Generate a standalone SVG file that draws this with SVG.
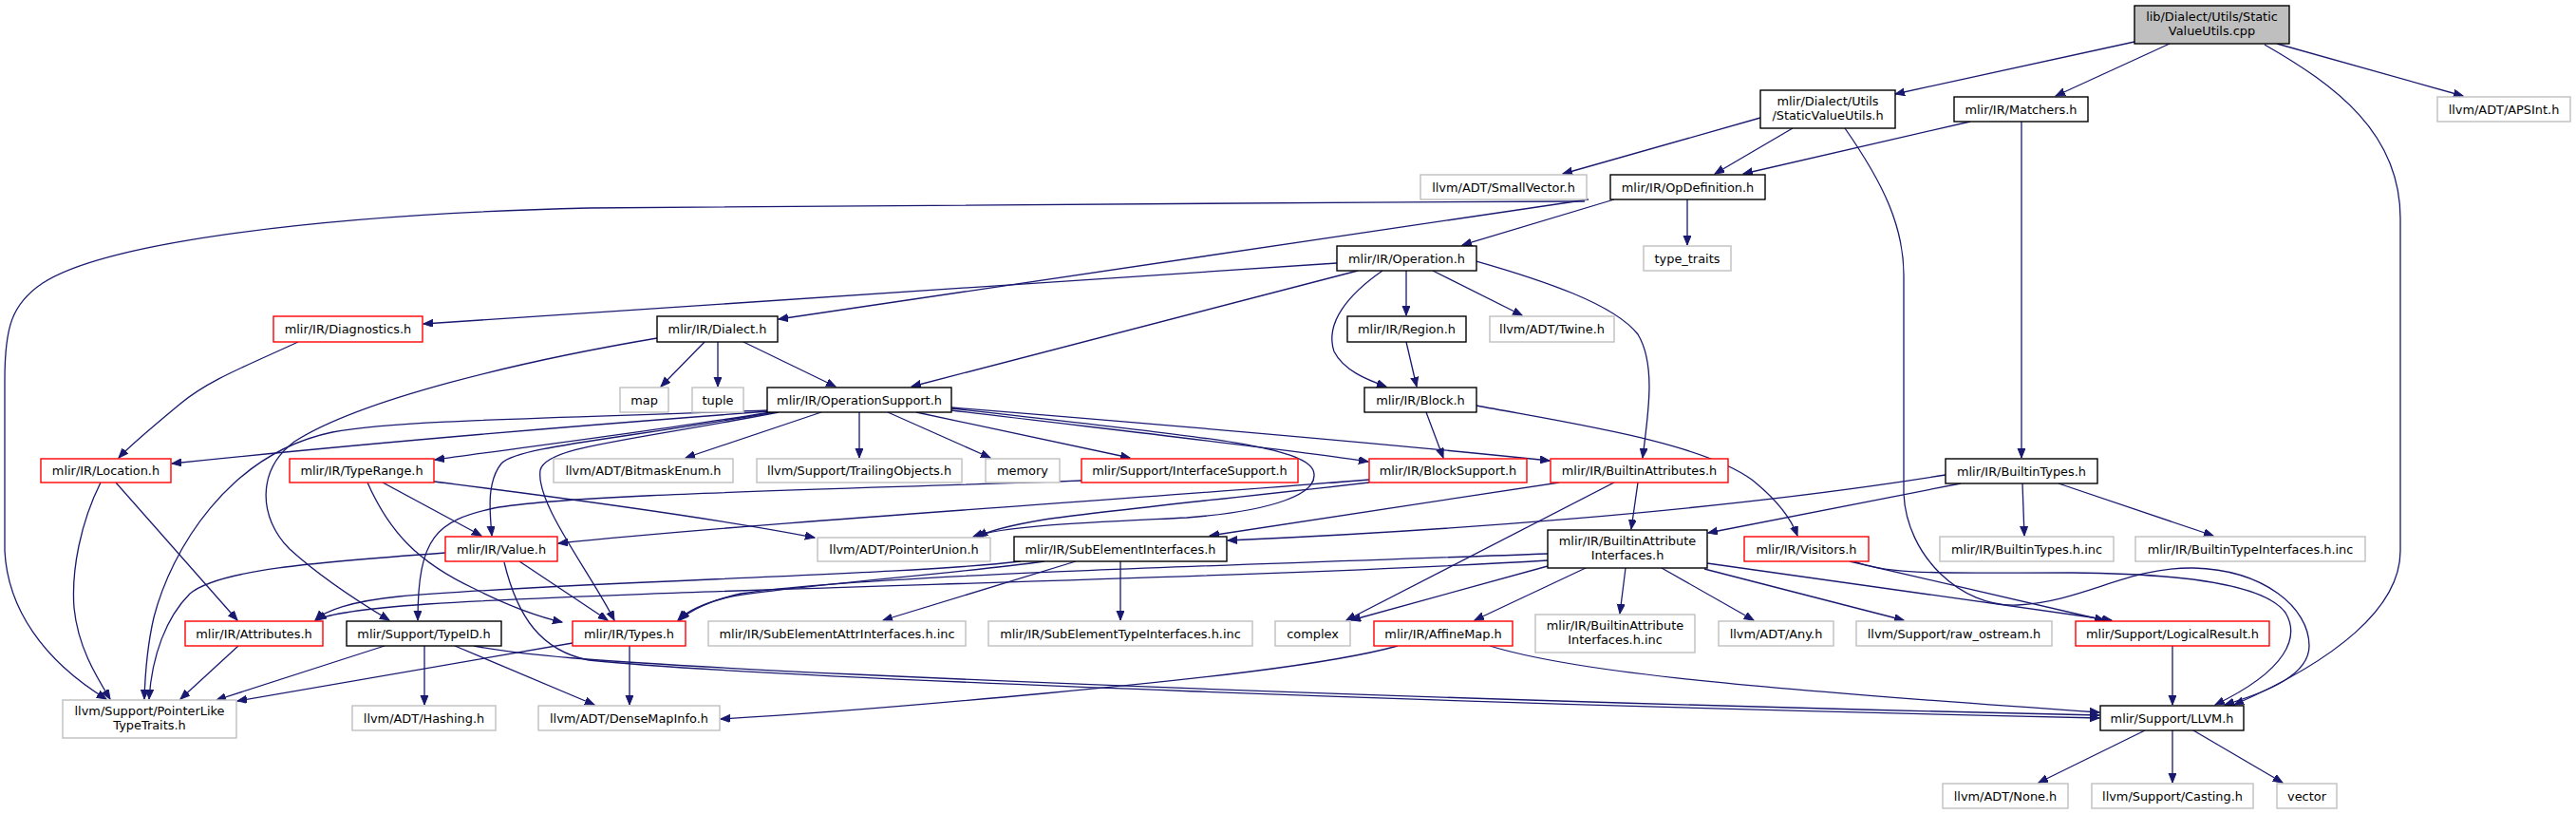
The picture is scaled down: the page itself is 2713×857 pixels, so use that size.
<svg xmlns="http://www.w3.org/2000/svg" width="2713" height="857" viewBox="0 0 2713 857">
<defs>
<style>
.n rect{fill:#fff;stroke-width:1.4}
.nb rect{stroke:#000}
.nr rect{stroke:#ff0000}
.ng rect{stroke:#bfbfbf}
.nroot rect{fill:#bfbfbf;stroke:#000}
.n text{font-family:"DejaVu Sans",sans-serif;font-size:12.9px;fill:#000;text-anchor:middle}
.e path{fill:none;stroke:#191970;stroke-width:1.3;marker-end:url(#a)}
</style>
<marker id="a" markerWidth="12" markerHeight="10" refX="10" refY="4" orient="auto" markerUnits="userSpaceOnUse"><path d="M0,0 L10,4 L0,8 z" fill="#191970" stroke="#191970" stroke-width="1"/></marker>
</defs>
<rect width="2713" height="857" fill="#fff"/>
<g id="edges" class="e">
<path d="M2248,44 L1996,99"/>
<path d="M2285,46 L2165,101"/>
<path d="M2398,46 L2594,101"/>
<path d="M2385,47 C2460,90 2528,140 2528,230 L2528,580 C2528,640 2460,695 2353,742"/>
<path d="M1854,124 L1646,183"/>
<path d="M1888,135 L1806,183"/>
<path d="M1943,135 C1985,195 2005,240 2005,290 L2005,520 C2008,585 2065,640 2125,637 C2195,633 2240,597 2310,598 C2385,600 2432,640 2432,680 C2432,710 2390,728 2343,742"/>
<path d="M2075,128 L1836,183"/>
<path d="M2129,128 L2129,482"/>
<path d="M1669,212 C1300,214 900,214 620,219 C330,226 110,256 45,298 C12,320 5,345 5,400 L5,580 C8,640 45,695 112,736"/>
<path d="M1777,210 L1777,258"/>
<path d="M1700,210 L1540,258"/>
<path d="M1673,210 L820,336"/>
<path d="M1408,277 L446,341"/>
<path d="M1430,285 L960,407"/>
<path d="M1456,285 C1420,310 1395,340 1405,370 C1415,390 1440,400 1460,407"/>
<path d="M1481,285 L1481,332"/>
<path d="M1509,285 L1603,332"/>
<path d="M1555,275 C1625,295 1700,320 1725,352 C1745,385 1735,440 1730,482"/>
<path d="M314,360 C260,385 220,400 190,425 C160,450 138,468 125,482"/>
<path d="M742,360 L696,407"/>
<path d="M756,360 L756,407"/>
<path d="M783,360 L880,407"/>
<path d="M692,356 C550,380 380,420 310,465 C270,495 272,545 305,578 C340,610 380,635 410,653"/>
<path d="M1481,360 L1492,407"/>
<path d="M810,433 C650,445 400,465 181,488"/>
<path d="M812,434 C700,452 560,470 458,484"/>
<path d="M809,432 C600,440 420,442 350,455 C240,478 180,580 162,650 C155,680 153,705 152,736"/>
<path d="M815,434 C650,463 545,470 528,488 C512,508 516,540 518,564"/>
<path d="M820,434 C660,465 575,470 569,495 C564,530 620,600 647,653"/>
<path d="M865,434 L722,482"/>
<path d="M905,434 L905,482"/>
<path d="M935,434 L1043,482"/>
<path d="M965,434 L1190,482"/>
<path d="M1002,432 C1150,450 1350,472 1441,486"/>
<path d="M1002,429 C1200,445 1450,466 1632,485"/>
<path d="M1002,430 C1250,458 1370,468 1383,495 C1392,520 1340,538 1250,545 C1150,550 1060,553 1025,565"/>
<path d="M1442,508 C1320,522 1160,538 1100,547 C1070,552 1045,557 1030,565"/>
<path d="M1502,434 L1520,482"/>
<path d="M1555,427 C1650,445 1790,465 1845,505 C1870,525 1886,545 1893,564"/>
<path d="M122,508 L250,653"/>
<path d="M106,508 C85,550 75,600 78,640 C82,680 100,710 116,736"/>
<path d="M403,508 L507,564"/>
<path d="M387,508 C410,560 440,592 500,620 C540,640 570,650 592,655"/>
<path d="M457,507 C600,525 750,545 858,566"/>
<path d="M1139,506 C900,515 600,520 520,535 C460,548 440,565 440,653"/>
<path d="M1442,505 C1200,525 800,550 588,572"/>
<path d="M1642,508 L1274,564"/>
<path d="M1725,508 L1718,557"/>
<path d="M1700,508 L1418,653"/>
<path d="M2049,500 C1800,540 1500,560 1293,569"/>
<path d="M2065,509 L1799,561"/>
<path d="M2130,509 L2132,564"/>
<path d="M2168,509 L2331,564"/>
<path d="M547,591 L640,653"/>
<path d="M469,582 C330,592 230,600 200,625 C175,650 160,690 157,736"/>
<path d="M531,592 C545,650 570,685 620,695 C800,714 1600,743 2211,756"/>
<path d="M1075,591 C950,606 600,612 420,628 C370,633 342,643 332,653"/>
<path d="M1100,591 C1000,605 850,615 770,628 C740,635 722,645 714,653"/>
<path d="M1133,591 L930,653"/>
<path d="M1180,591 L1180,653"/>
<path d="M1630,590 C1300,610 700,620 450,636 C380,641 345,646 334,653"/>
<path d="M1630,583 C1300,595 900,606 780,625 C748,632 726,643 716,653"/>
<path d="M1630,596 L1423,653"/>
<path d="M1670,598 L1553,653"/>
<path d="M1712,598 L1706,646"/>
<path d="M1750,598 L1847,653"/>
<path d="M1795,599 L2005,653"/>
<path d="M1798,593 L2224,653"/>
<path d="M1948,591 L2216,653"/>
<path d="M1951,590 C1985,606 2050,603 2182,603 C2300,604 2385,615 2407,645 C2422,670 2410,705 2333,742"/>
<path d="M251,680 L190,736"/>
<path d="M405,680 L228,737"/>
<path d="M447,680 L447,742"/>
<path d="M479,680 L626,742"/>
<path d="M499,680 C540,688 600,696 900,710 C1400,733 1900,746 2211,753"/>
<path d="M603,677 L250,738"/>
<path d="M663,680 L663,742"/>
<path d="M1472,680 C1400,700 1250,716 1100,730 C950,744 850,752 759,757"/>
<path d="M1569,680 C1650,705 1800,722 2211,750"/>
<path d="M2288,680 L2288,742"/>
<path d="M2259,769 L2147,824"/>
<path d="M2288,769 L2288,824"/>
<path d="M2310,769 L2404,824"/>
</g>
<g id="n0" class="n nroot"><rect x="2248" y="6" width="163" height="40"/><text x="2329.5" y="22">lib/Dialect/Utils/Static</text><text x="2329.5" y="37">ValueUtils.cpp</text></g>
<g id="n1" class="n nb"><rect x="1854" y="95" width="142" height="40"/><text x="1925" y="111">mlir/Dialect/Utils</text><text x="1925" y="126">/StaticValueUtils.h</text></g>
<g id="n2" class="n nb"><rect x="2058" y="102" width="141" height="26"/><text x="2128.5" y="119.5">mlir/IR/Matchers.h</text></g>
<g id="n3" class="n ng"><rect x="2567" y="102" width="140" height="26"/><text x="2637" y="119.5">llvm/ADT/APSInt.h</text></g>
<g id="n4" class="n nb"><rect x="1696" y="184" width="163" height="26"/><text x="1777.5" y="201.5">mlir/IR/OpDefinition.h</text></g>
<g id="n5" class="n ng"><rect x="1496" y="184" width="175" height="26"/><text x="1583.5" y="201.5">llvm/ADT/SmallVector.h</text></g>
<g id="n6" class="n ng"><rect x="1731" y="259" width="92" height="26"/><text x="1777" y="276.5">type_traits</text></g>
<g id="n7" class="n nb"><rect x="1408" y="259" width="147" height="26"/><text x="1481.5" y="276.5">mlir/IR/Operation.h</text></g>
<g id="n8" class="n nr"><rect x="288" y="333" width="157" height="27"/><text x="366.5" y="351">mlir/IR/Diagnostics.h</text></g>
<g id="n9" class="n nb"><rect x="692" y="333" width="127" height="27"/><text x="755.5" y="351">mlir/IR/Dialect.h</text></g>
<g id="n10" class="n nb"><rect x="1419" y="333" width="125" height="27"/><text x="1481.5" y="351">mlir/IR/Region.h</text></g>
<g id="n11" class="n ng"><rect x="1569" y="333" width="131" height="27"/><text x="1634.5" y="351">llvm/ADT/Twine.h</text></g>
<g id="n12" class="n ng"><rect x="653" y="408" width="51" height="26"/><text x="678.5" y="425.5">map</text></g>
<g id="n13" class="n ng"><rect x="729" y="408" width="54" height="26"/><text x="756" y="425.5">tuple</text></g>
<g id="n14" class="n nb"><rect x="808" y="408" width="194" height="26"/><text x="905" y="425.5">mlir/IR/OperationSupport.h</text></g>
<g id="n15" class="n nb"><rect x="1437" y="408" width="118" height="26"/><text x="1496" y="425.5">mlir/IR/Block.h</text></g>
<g id="n16" class="n nr"><rect x="43" y="483" width="137" height="25"/><text x="111.5" y="500">mlir/IR/Location.h</text></g>
<g id="n17" class="n nr"><rect x="305" y="483" width="152" height="25"/><text x="381" y="500">mlir/IR/TypeRange.h</text></g>
<g id="n18" class="n ng"><rect x="583" y="483" width="189" height="25"/><text x="677.5" y="500">llvm/ADT/BitmaskEnum.h</text></g>
<g id="n19" class="n ng"><rect x="797" y="483" width="216" height="25"/><text x="905" y="500">llvm/Support/TrailingObjects.h</text></g>
<g id="n20" class="n ng"><rect x="1038" y="483" width="78" height="25"/><text x="1077" y="500">memory</text></g>
<g id="n21" class="n nr"><rect x="1139" y="483" width="228" height="25"/><text x="1253" y="500">mlir/Support/InterfaceSupport.h</text></g>
<g id="n22" class="n nr"><rect x="1442" y="483" width="166" height="25"/><text x="1525" y="500">mlir/IR/BlockSupport.h</text></g>
<g id="n23" class="n nr"><rect x="1633" y="483" width="187" height="25"/><text x="1726.5" y="500">mlir/IR/BuiltinAttributes.h</text></g>
<g id="n24" class="n nb"><rect x="2049" y="483" width="160" height="26"/><text x="2129" y="500.5">mlir/IR/BuiltinTypes.h</text></g>
<g id="n25" class="n nr"><rect x="469" y="565" width="118" height="26"/><text x="528" y="582.5">mlir/IR/Value.h</text></g>
<g id="n26" class="n ng"><rect x="861" y="566" width="182" height="25"/><text x="952" y="583">llvm/ADT/PointerUnion.h</text></g>
<g id="n27" class="n nb"><rect x="1068" y="565" width="224" height="26"/><text x="1180" y="582.5">mlir/IR/SubElementInterfaces.h</text></g>
<g id="n28" class="n nb"><rect x="1630" y="558" width="168" height="40"/><text x="1714" y="574">mlir/IR/BuiltinAttribute</text><text x="1714" y="589">Interfaces.h</text></g>
<g id="n29" class="n nr"><rect x="1837" y="565" width="131" height="26"/><text x="1902.5" y="582.5">mlir/IR/Visitors.h</text></g>
<g id="n30" class="n ng"><rect x="2043" y="565" width="183" height="26"/><text x="2134.5" y="582.5">mlir/IR/BuiltinTypes.h.inc</text></g>
<g id="n31" class="n ng"><rect x="2249" y="565" width="242" height="26"/><text x="2370" y="582.5">mlir/IR/BuiltinTypeInterfaces.h.inc</text></g>
<g id="n32" class="n nr"><rect x="195" y="654" width="145" height="26"/><text x="267.5" y="671.5">mlir/IR/Attributes.h</text></g>
<g id="n33" class="n nb"><rect x="365" y="654" width="163" height="26"/><text x="446.5" y="671.5">mlir/Support/TypeID.h</text></g>
<g id="n34" class="n nr"><rect x="603" y="654" width="119" height="26"/><text x="662.5" y="671.5">mlir/IR/Types.h</text></g>
<g id="n35" class="n ng"><rect x="746" y="654" width="271" height="26"/><text x="881.5" y="671.5">mlir/IR/SubElementAttrInterfaces.h.inc</text></g>
<g id="n36" class="n ng"><rect x="1041" y="654" width="278" height="26"/><text x="1180" y="671.5">mlir/IR/SubElementTypeInterfaces.h.inc</text></g>
<g id="n37" class="n ng"><rect x="1343" y="654" width="79" height="26"/><text x="1382.5" y="671.5">complex</text></g>
<g id="n38" class="n nr"><rect x="1447" y="654" width="146" height="26"/><text x="1520" y="671.5">mlir/IR/AffineMap.h</text></g>
<g id="n39" class="n ng"><rect x="1617" y="647" width="168" height="40"/><text x="1701" y="663">mlir/IR/BuiltinAttribute</text><text x="1701" y="678">Interfaces.h.inc</text></g>
<g id="n40" class="n ng"><rect x="1810" y="654" width="121" height="26"/><text x="1870.5" y="671.5">llvm/ADT/Any.h</text></g>
<g id="n41" class="n ng"><rect x="1955" y="654" width="206" height="26"/><text x="2058" y="671.5">llvm/Support/raw_ostream.h</text></g>
<g id="n42" class="n nr"><rect x="2186" y="654" width="204" height="26"/><text x="2288" y="671.5">mlir/Support/LogicalResult.h</text></g>
<g id="n43" class="n ng"><rect x="66" y="737" width="183" height="40"/><text x="157.5" y="753">llvm/Support/PointerLike</text><text x="157.5" y="768">TypeTraits.h</text></g>
<g id="n44" class="n ng"><rect x="371" y="743" width="151" height="26"/><text x="446.5" y="760.5">llvm/ADT/Hashing.h</text></g>
<g id="n45" class="n ng"><rect x="567" y="743" width="191" height="26"/><text x="662.5" y="760.5">llvm/ADT/DenseMapInfo.h</text></g>
<g id="n46" class="n nb"><rect x="2212" y="743" width="151" height="26"/><text x="2287.5" y="760.5">mlir/Support/LLVM.h</text></g>
<g id="n47" class="n ng"><rect x="2046" y="825" width="132" height="26"/><text x="2112" y="842.5">llvm/ADT/None.h</text></g>
<g id="n48" class="n ng"><rect x="2203" y="825" width="170" height="26"/><text x="2288" y="842.5">llvm/Support/Casting.h</text></g>
<g id="n49" class="n ng"><rect x="2398" y="825" width="63" height="26"/><text x="2429.5" y="842.5">vector</text></g>
</svg>
